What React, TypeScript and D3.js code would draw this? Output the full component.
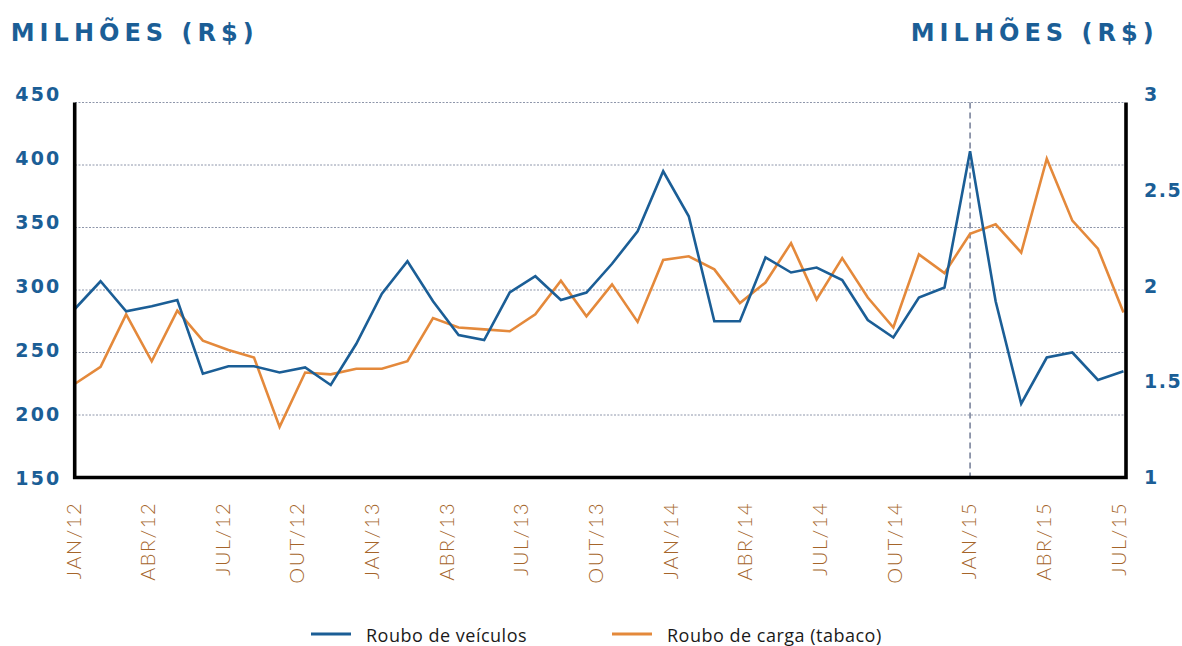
import React, { useEffect, useRef } from 'react';
import * as d3 from 'd3';

// Roubo de veículos (eixo esquerdo, milhões R$)
const veiculos = [
  285, 307, 283, 287, 292, 233, 239, 239, 234, 238, 224, 257, 297, 323, 291,
  264, 260, 298, 311, 292, 298, 321, 347, 395, 359, 275, 275, 326, 314, 318,
  308, 276, 262, 294, 302, 411, 291, 209, 246, 250, 228, 235,
];

// Roubo de carga - tabaco (eixo direito, milhões R$)
const carga = [
  1.5, 1.59, 1.87, 1.62, 1.89, 1.73, 1.68, 1.64, 1.27, 1.56, 1.55, 1.58, 1.58,
  1.62, 1.85, 1.8, 1.79, 1.78, 1.87, 2.05, 1.86, 2.03, 1.83, 2.16, 2.18, 2.11,
  1.93, 2.04, 2.25, 1.95, 2.17, 1.96, 1.8, 2.19, 2.09, 2.3, 2.35, 2.2, 2.7,
  2.37, 2.22, 1.88,
];

const mesesLabels = [
  'JAN/12', 'ABR/12', 'JUL/12', 'OUT/12', 'JAN/13', 'ABR/13', 'JUL/13', 'OUT/13',
  'JAN/14', 'ABR/14', 'JUL/14', 'OUT/14', 'JAN/15', 'ABR/15', 'JUL/15',
];

const ticksEsq = [150, 200, 250, 300, 350, 400, 450];
const ticksDir = [1, 1.5, 2, 2.5, 3];
const marcoIdx = 35; // JAN/15

const AZUL = '#1b5e96';
const LARANJA = '#e4893b';
const MARROM = '#a5652a';
const BOLD_FONT = '"DejaVu Sans", sans-serif';

const App: React.FC = () => {
  const svgRef = useRef<SVGSVGElement>(null);
  const width = 1182;
  const height = 646;

  useEffect(() => {
    if (!svgRef.current) return;
    const svg = d3.select(svgRef.current);
    svg.selectAll('*').remove();

    const x = d3.scaleLinear().domain([0, veiculos.length - 1]).range([75, 1123.5]);
    const yL = d3.scaleLinear().domain([150, 450]).range([477.5, 102.5]);
    const yR = d3.scaleLinear().domain([1, 3]).range([477.5, 102.5]);
    // posições dos rótulos (levemente diferentes da grade no original)
    const yLabL = d3.scaleLinear().domain([150, 450]).range([477.8, 94.5]);
    const yLabR = d3.scaleLinear().domain([1, 3]).range([477, 94.5]);
    const xLab = d3.scalePoint<string>().domain(mesesLabels).range([73.3, 1118.3]);

    // grade pontilhada
    svg.append('g')
      .selectAll('line')
      .data(ticksEsq.slice(1))
      .join('line')
      .attr('x1', x(0))
      .attr('x2', x(veiculos.length - 1))
      .attr('y1', d => yL(d))
      .attr('y2', d => yL(d))
      .attr('stroke', '#8e96aa')
      .attr('stroke-width', 1)
      .attr('stroke-dasharray', '2,1.5');

    // linha tracejada JAN/15
    svg.append('line')
      .attr('x1', x(marcoIdx))
      .attr('x2', x(marcoIdx))
      .attr('y1', yL(450))
      .attr('y2', yL(150))
      .attr('stroke', '#7a849c')
      .attr('stroke-width', 1.6)
      .attr('stroke-dasharray', '6,4');

    const lineL = d3.line<number>().x((_, i) => x(i)).y(d => yL(d));
    const lineR = d3.line<number>().x((_, i) => x(i)).y(d => yR(d));

    svg.append('path')
      .datum(carga)
      .attr('fill', 'none')
      .attr('stroke', LARANJA)
      .attr('stroke-width', 2.6)
      .attr('d', lineR);

    svg.append('path')
      .datum(veiculos)
      .attr('fill', 'none')
      .attr('stroke', AZUL)
      .attr('stroke-width', 2.6)
      .attr('d', lineL);

    // eixos
    const axes = svg.append('g').attr('stroke', '#000').attr('stroke-width', 3.6).attr('fill', 'none');
    axes.append('path')
      .attr('d', `M${x(0) - 0.3},${yL(450)}V${yL(150)}H${x(veiculos.length - 1) + 2.5}V${yL(450)}`);

    // rótulos eixo esquerdo
    svg.append('g')
      .selectAll('text')
      .data(ticksEsq)
      .join('text')
      .attr('x', 61.5)
      .attr('y', d => yLabL(d))
      .attr('dy', '0.36em')
      .attr('text-anchor', 'end')
      .attr('font-family', BOLD_FONT)
      .attr('font-weight', 700)
      .attr('font-size', 19)
      .attr('letter-spacing', 2.2)
      .attr('fill', AZUL)
      .text(d => String(d));

    // rótulos eixo direito
    svg.append('g')
      .selectAll('text')
      .data(ticksDir)
      .join('text')
      .attr('x', 1144)
      .attr('y', d => yLabR(d))
      .attr('dy', '0.36em')
      .attr('font-family', BOLD_FONT)
      .attr('font-weight', 700)
      .attr('font-size', 19)
      .attr('letter-spacing', 1.5)
      .attr('fill', AZUL)
      .text(d => String(d));

    // títulos
    [10.7, 910.7].forEach(tx => {
      svg.append('text')
        .attr('x', tx)
        .attr('y', 40.7)
        .attr('font-family', BOLD_FONT)
        .attr('font-weight', 700)
        .attr('font-size', 24)
        .attr('textLength', 243)
        .attr('lengthAdjust', 'spacing')
        .attr('fill', AZUL)
        .text('MILHÕES (R$)');
    });

    // rótulos meses
    svg.append('g')
      .selectAll('text')
      .data(mesesLabels)
      .join('text')
      .attr('transform', d => `translate(${xLab(d)},502) rotate(-90)`)
      .attr('dy', '0.36em')
      .attr('text-anchor', 'end')
      .attr('font-family', 'Lato, sans-serif')
      .attr('font-weight', 300)
      .attr('font-size', 20)
      .attr('letter-spacing', 1.5)
      .attr('fill', MARROM)
      .text(d => d);

    // legenda
    const legend = svg.append('g');
    const itens = [
      { nome: 'Roubo de veículos', cor: AZUL, x0: 311 },
      { nome: 'Roubo de carga (tabaco)', cor: LARANJA, x0: 612 },
    ];
    itens.forEach(it => {
      legend.append('line')
        .attr('x1', it.x0).attr('x2', it.x0 + 40)
        .attr('y1', 634).attr('y2', 634)
        .attr('stroke', it.cor).attr('stroke-width', 3);
      legend.append('text')
        .attr('x', it.x0 + 55)
        .attr('y', 642)
        .attr('font-family', '"Open Sans", sans-serif')
        .attr('font-size', 18)
        .attr('letter-spacing', 0.5)
        .attr('fill', '#1a1a1a')
        .text(it.nome);
    });
  }, []);

  return (
    <svg
      ref={svgRef}
      width={width}
      height={height}
      style={{ position: 'absolute', left: 0, top: 0, background: '#fff' }}
    />
  );
};

export default App;
